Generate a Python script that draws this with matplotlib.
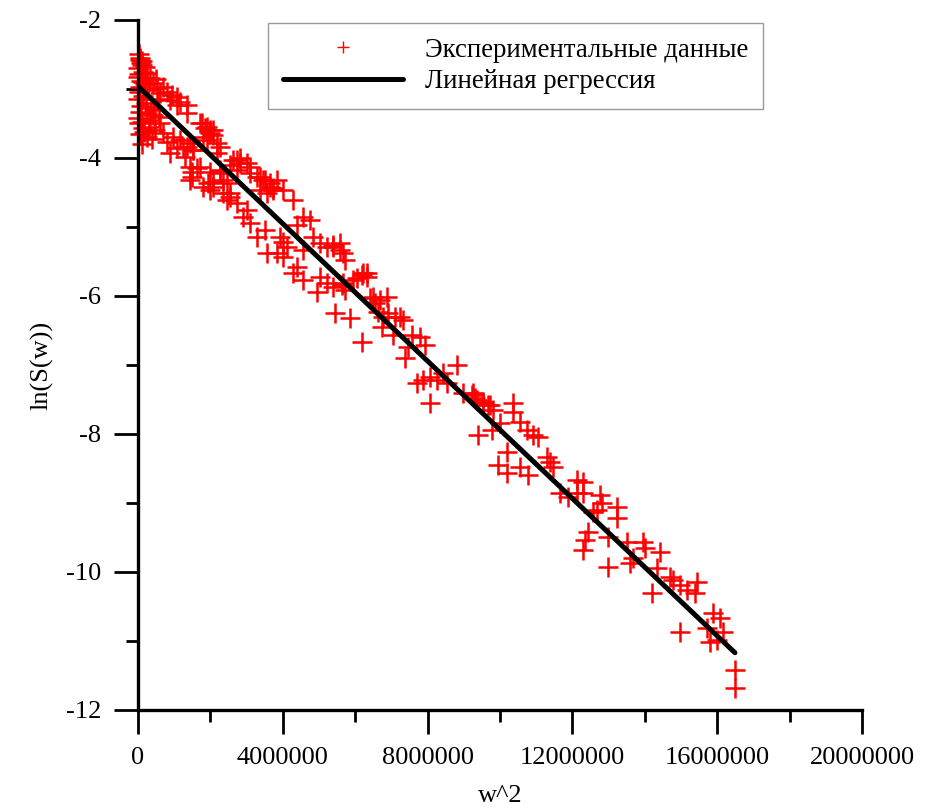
import numpy as np
import matplotlib
matplotlib.use("Agg")
import matplotlib.pyplot as plt
from matplotlib.lines import Line2D

plt.rcParams['font.family'] = ['Liberation Serif', 'DejaVu Serif']
plt.rcParams['axes.unicode_minus'] = False

# w^2 values (in millions) and ln(S(w)) of the measured points
w2_mln = [
    0.06, 0.11, 0.00, 0.14, 0.25, 0.00, 0.33, 0.14, 0.41, 0.06,
    0.52, 0.28, 0.69, 0.61, 0.80, 0.94, 1.08, 0.88, 1.16, 1.08,
    1.35, 0.06, 0.25, 0.41, 0.00, 0.11, 0.33, 0.61, 0.14, 0.47,
    0.69, 0.25, 0.97, 0.80, 1.16, 1.35, 1.08, 1.52, 0.88, 1.30,
    1.77, 1.91, 1.99, 1.80, 2.07, 2.18, 1.44, 1.63, 1.49, 1.99,
    2.27, 2.07, 2.46, 2.62, 2.82, 3.01, 2.73, 3.09, 3.29, 3.45,
    3.65, 3.84, 3.37, 3.56, 3.73, 2.35, 2.54, 2.73, 1.80, 1.99,
    4.01,
    0.02, 0.05, 0.08, 0.12, 0.18, 0.03, 0.09, 0.20, 0.04, 0.15,
    0.01, 0.22, 0.07, 0.35, 0.02, 0.17, 0.05, 0.38, 0.10, 0.30,
    0.45, 0.55, 0.50, 0.58,
    1.35, 1.71, 1.85, 1.99, 2.07, 1.91, 1.44, 1.24, 1.52, 2.27,
    2.18, 1.71, 1.49, 1.44, 2.73, 2.82, 3.09, 2.54, 2.27, 2.07,
    1.93, 2.35, 2.54, 2.46, 3.01, 2.90, 3.09, 3.51, 3.65, 3.73,
    3.37, 3.51, 3.92, 4.01, 4.12, 3.84, 4.01, 4.28, 4.56, 4.75,
    4.39, 4.83, 5.03, 5.22, 5.39, 5.58, 4.56, 4.39, 4.28, 4.56,
    5.03, 5.22, 4.94, 5.66, 5.94, 6.22, 6.33, 6.49, 3.56, 3.29,
    5.39, 5.58, 5.66, 5.72, 5.39, 5.64, 5.72, 6.05, 6.19, 6.33,
    5.44, 5.86, 6.19, 6.41, 6.55, 6.69, 6.88, 6.63, 6.77, 6.91,
    7.10, 7.24, 7.32, 6.74, 7.04, 7.57, 7.79, 7.46, 7.93, 7.38,
    7.71, 7.87, 8.07, 8.26, 8.43, 8.81, 8.54, 8.07, 8.98, 9.23,
    9.36, 9.53, 9.72, 10.36,
    9.25, 9.31, 9.53, 9.67, 9.81, 9.39, 9.78, 10.00, 10.36, 10.55,
    10.75, 10.91, 11.05, 10.19, 9.94, 10.19, 10.55, 10.77, 11.30, 11.38,
    11.46, 11.66, 11.88, 12.13, 12.13, 12.57,
    12.29, 12.29, 12.76, 12.82, 12.68, 13.23, 13.23, 12.43, 12.35, 12.29,
    12.98, 12.98, 13.51, 13.95, 14.00, 13.67, 13.59, 14.42, 14.34, 14.20,
    14.70, 14.78, 14.97, 15.17, 15.44, 15.39, 14.97, 15.88, 16.08, 16.16,
    15.72, 15.80, 15.99, 16.49, 16.49,
]
ln_s = [
    -2.58, -2.65, -2.70, -2.75, -2.77, -2.83, -2.84, -2.90, -2.91, -2.97,
    -2.99, -3.01, -2.97, -3.06, -3.04, -3.09, -3.12, -3.16, -3.19, -3.23,
    -3.23, -3.33, -3.35, -3.38, -3.42, -3.48, -3.45, -3.49, -3.57, -3.59,
    -3.64, -3.70, -3.70, -3.77, -3.74, -3.84, -3.86, -3.88, -3.93, -3.99,
    -3.49, -3.55, -3.59, -3.70, -3.67, -3.78, -4.13, -4.14, -4.28, -4.20,
    -4.22, -4.35, -4.36, -4.03, -4.00, -4.07, -4.17, -4.22, -4.28, -4.32,
    -4.36, -4.32, -4.46, -4.51, -4.43, -4.51, -4.57, -4.65, -4.42, -4.46,
    -4.46,
    -2.50, -2.55, -2.62, -2.60, -2.68, -2.78, -2.88, -2.93, -3.05, -3.10,
    -3.15, -3.20, -3.25, -3.28, -3.50, -3.62, -3.65, -3.72, -3.80, -3.55,
    -3.30, -3.15, -2.85, -3.40,
    -3.35, -3.49, -3.57, -3.64, -3.59, -3.74, -3.78, -3.84, -3.88, -3.84,
    -3.93, -4.13, -4.20, -4.32, -4.03, -4.07, -4.13, -4.10, -4.17, -4.42,
    -4.36, -4.32, -4.51, -4.61, -4.75, -4.86, -4.94, -4.32, -4.42, -4.46,
    -4.28, -5.04, -5.14, -5.22, -5.29, -5.38, -5.43, -4.61, -4.86, -4.90,
    -4.97, -5.14, -5.23, -5.29, -5.29, -5.33, -5.33, -5.58, -5.67, -5.77,
    -5.72, -5.81, -5.94, -5.81, -5.77, -5.67, -5.72, -6.01, -5.38, -5.14,
    -5.26, -5.23, -5.38, -5.48, -5.87, -5.84, -5.91, -5.74, -5.70, -5.67,
    -6.25, -6.32, -6.67, -6.03, -6.10, -6.06, -6.01, -6.23, -6.30, -6.25,
    -6.30, -6.30, -6.35, -6.45, -6.57, -6.57, -6.59, -6.74, -6.71, -6.90,
    -7.26, -7.22, -7.17, -7.22, -7.12, -7.00, -7.26, -7.55, -7.41, -7.43,
    -7.51, -7.55, -7.58, -7.55,
    -7.41, -7.48, -7.54, -7.58, -7.65, -8.01, -7.94, -7.84, -7.68, -7.83,
    -7.94, -8.01, -8.04, -8.26, -8.45, -8.57, -8.48, -8.59, -8.33, -8.41,
    -8.48, -8.86, -8.91, -8.67, -8.86, -9.13,
    -8.70, -8.86, -8.88, -9.00, -9.10, -9.06, -9.22, -9.42, -9.54, -9.68,
    -9.49, -9.93, -9.57, -9.57, -9.65, -9.80, -9.87, -9.71, -9.94, -10.30,
    -10.07, -10.12, -10.19, -10.26, -10.14, -10.30, -10.87, -10.59, -10.67, -10.87,
    -10.81, -11.01, -10.99, -11.42, -11.68,
]

# regression line end points
fit_w2 = [0.0, 16.49e6]
fit_ln_s = [-2.96, -11.17]

x_major = [0, 4000000, 8000000, 12000000, 16000000, 20000000]
x_minor = [2000000, 6000000, 10000000, 14000000, 18000000]
x_labels = ["0", "4000000", "8000000", "12000000", "16000000", "20000000"]
y_major = [-12, -10, -8, -6, -4, -2]
y_minor = [-11, -9, -7, -5, -3]
y_labels = ["-12", "-10", "-8", "-6", "-4", "-2"]

legend_labels = ["Экспериментальные данные", "Линейная регрессия"]

w2 = np.array(w2_mln) * 1e6
ln_s = np.array(ln_s)

fig = plt.figure(figsize=(9.31, 8.10), dpi=100)
ax = fig.add_axes([138 / 931, 1 - 710 / 810, 724 / 931, 690 / 810])

ax.plot(w2, ln_s, linestyle="none", marker="+", color="red",
        markersize=15, markeredgewidth=1.8, clip_on=False, zorder=2)
ax.plot(fit_w2, fit_ln_s, color="black", linewidth=3.6,
        solid_capstyle="round", zorder=3)

ax.set_xlim(0, 20000000)
ax.set_ylim(-12, -2)

for side in ("top", "right"):
    ax.spines[side].set_visible(False)
for side in ("left", "bottom"):
    ax.spines[side].set_linewidth(2.4)
    ax.spines[side].set_zorder(4)

ax.set_xticks(x_major)
ax.set_xticklabels(x_labels)
ax.set_xticks(x_minor, minor=True)
ax.set_yticks(y_major)
ax.set_yticklabels(y_labels)
ax.set_yticks(y_minor, minor=True)
ax.tick_params(which="major", direction="out", length=17.5, width=2.0,
               labelsize=19, pad=9)
ax.tick_params(which="minor", direction="out", length=8.5, width=2.0)

ax.set_xlabel("w^2", fontsize=19, labelpad=12)
ax.set_ylabel("ln(S(w))", fontsize=19, labelpad=9)

handles = [
    Line2D([], [], linestyle="none", marker="+", color="red",
           markersize=9, markeredgewidth=1.0),
    Line2D([], [], color="black", linewidth=3.6, solid_capstyle="round"),
]
leg = ax.legend(handles, legend_labels, loc="upper left",
                bbox_to_anchor=(268 / 931, 1 - 23 / 810),
                bbox_transform=fig.transFigure, fontsize=19.3,
                frameon=True, fancybox=False, edgecolor="#808080",
                handlelength=4.5, handletextpad=0.8, borderpad=0.55,
                labelspacing=0.25, borderaxespad=0)
leg.get_frame().set_linewidth(1.0)

fig.savefig("out.png", dpi=100)
